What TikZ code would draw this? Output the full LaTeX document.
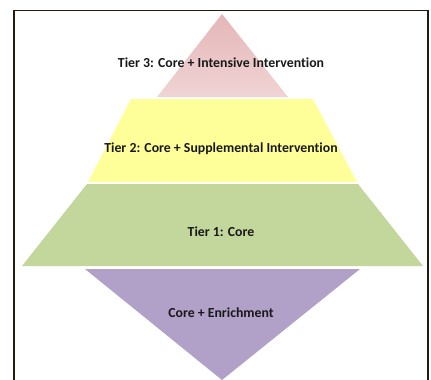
\documentclass[tikz,border=0pt]{standalone}
\usepackage{fontspec}
\setmainfont[Ligatures=NoCommon]{Carlito}
\begin{document}
\begin{tikzpicture}[x=1pt,y=-1pt,
  tierlabel/.style={font=\bfseries\fontsize{13.8}{16}\selectfont, text=black!90},
  band/.style={draw=none}]
\useasboundingbox (0,0) rectangle (431,380);
\fill[white] (0,0) rectangle (431,380);
% frame, open at the bottom
\draw[line width=1.6pt, color=black!80!brown] (14,381) -- (14,10.5) -- (428,10.5) -- (428,381);
% tier 3 (top triangle), lighter towards the lower right
\shade[band, shading angle=-40,
  top color={rgb,255:red,229;green,182;blue,184}, bottom color={rgb,255:red,240;green,212;blue,213}]
  (222,14) -- (288,97) -- (157,97) -- cycle;
% tier 2
\fill[band, color={rgb,255:red,255;green,255;blue,153}] (131,99) -- (313,99) -- (357,182) -- (88,182) -- cycle;
% tier 1
\fill[band, color={rgb,255:red,195;green,214;blue,155}] (87,184) -- (358,184) -- (423,266) -- (22,266) -- cycle;
% enrichment (inverted triangle)
\fill[band, color={rgb,255:red,177;green,160;blue,199}] (85,269) -- (360,269) -- (222,380) -- cycle;
% labels
\node[tierlabel] (t3) at (221,63) {Tier 3: Core + Intensive Intervention};
\node[tierlabel] (t2) at (221,149) {Tier 2: Core + Supplemental Intervention};
\node[tierlabel] (t1) at (221,232) {Tier 1: Core};
\node[tierlabel] (en) at (221,313) {Core + Enrichment};
\end{tikzpicture}
\end{document}
